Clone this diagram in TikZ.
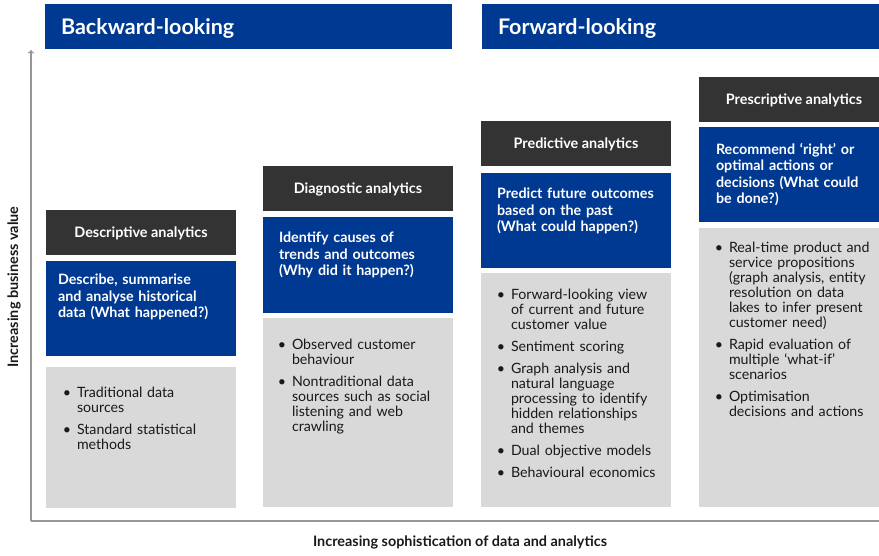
\documentclass[tikz,border=0pt]{standalone}
\usepackage{fontspec}
\setmainfont{Lato}
\usepackage{enumitem}
\usepackage{tikz}

\definecolor{kblue}{RGB}{0,57,145}
\definecolor{kdark}{RGB}{51,51,51}
\definecolor{kgrey}{RGB}{217,217,217}
\definecolor{kaxis}{RGB}{150,150,150}
\definecolor{ktext}{RGB}{25,25,25}

% compact bullets for the grey boxes
\setlist[itemize]{label=\textbullet, leftmargin=11pt, labelsep=6pt, itemsep=7pt,
  topsep=0pt, parsep=0pt, partopsep=0pt}

\begin{document}
\begin{tikzpicture}
  [x=1pt,y=-1pt,every node/.style={inner sep=0pt,outer sep=0pt},
   band/.style={fill=kblue,anchor=north west,minimum height=45pt,inner xsep=16pt,
     text width=375pt,align=left,text depth=0pt,text=white,
     font=\bfseries\fontsize{21.5}{24}\selectfont},
   darkbox/.style={fill=kdark,anchor=north west,minimum width=190pt,minimum height=45pt,
     text depth=0pt,text=white,font=\bfseries\fontsize{14.4}{16}\selectfont},
   bluebox/.style={fill=kblue,anchor=north west,minimum width=190pt,minimum height=95pt},
   greybox/.style={fill=kgrey,anchor=north west,minimum width=190pt},
   bluetext/.style={anchor=north west,text width=178pt,align=left,text=white,
     font=\bfseries\fontsize{14.3}{16.5}\selectfont},
   greytext/.style={anchor=north west,text width=172pt,align=left,text=ktext,
     font=\fontsize{14.2}{15}\selectfont},
   axislabel/.style={text=ktext,font=\bfseries\fontsize{14.4}{16}\selectfont},
   axis/.style={draw=kaxis,line width=1.3pt}]
  \clip (0,0) rectangle (879,555);

  % top bands
  \node[band] (back) at (45,4)  {Backward-looking};
  \node[band] (fwd)  at (482,4) {Forward-looking};

  % axes
  \coordinate (origin) at (31,521);
  \coordinate (ytop)   at (31,50);
  \coordinate (xend)   at (879,521);
  \draw[axis,->] (origin) -- (ytop);
  \draw[axis] (origin) -- (xend);
  \node[axislabel] (xlabel) at (460,542) {Increasing sophistication of data and analytics};
  \node[axislabel,rotate=90] (ylabel) at (14,287) {Increasing business value};

  % descriptive
  \node[darkbox] (d1) at (46,210) {Descriptive analytics};
  \node[bluebox] (b1) at (46,261) {};
  \node[greybox,minimum height=141pt] (g1) at (46,367) {};
  \node[bluetext] (bt1) at ([shift={(12,13)}]b1.north west)
    {Describe, summarise\\and analyse historical\\data (What happened?)};
  \node[greytext] (gt1) at ([shift={(20,15)}]g1.north west) {%
    \begin{itemize}
      \item Traditional data\newline sources
      \item Standard statistical\newline methods
    \end{itemize}};

  % diagnostic
  \node[darkbox] (d2) at (263,166) {Diagnostic analytics};
  \node[bluebox,minimum height=96pt] (b2) at (263,217) {};
  \node[greybox,minimum height=189pt] (g2) at (263,318) {};
  \node[bluetext] (bt2) at ([shift={(16,15)}]b2.north west)
    {Identify causes of\\trends and outcomes\\(Why did it happen?)};
  \node[greytext] (gt2) at ([shift={(18,16)}]g2.north west) {%
    \begin{itemize}
      \item Observed customer\newline behaviour
      \item Nontraditional data\newline sources such as social\newline listening and web\newline crawling
    \end{itemize}};

  % predictive
  \node[darkbox] (d3) at (481,121) {Predictive analytics};
  \node[bluebox] (b3) at (481,173) {};
  \node[greybox,minimum height=234pt] (g3) at (481,273) {};
  \node[bluetext] (bt3) at ([shift={(16,15)}]b3.north west)
    {Predict future outcomes\\based on the past\\(What could happen?)};
  \node[greytext] (gt3) at ([shift={(19,11)}]g3.north west) {%
    \begin{itemize}
      \item Forward-looking view\newline of current and future\newline customer value
      \item Sentiment scoring
      \item Graph analysis and\newline natural language\newline processing to identify\newline hidden relationships\newline and themes
      \item Dual objective models
      \item Behavioural economics
    \end{itemize}};

  % prescriptive
  \node[darkbox] (d4) at (699,77) {Prescriptive analytics};
  \node[bluebox] (b4) at (699,127) {};
  \node[greybox,minimum height=279pt] (g4) at (699,228) {};
  \node[bluetext] (bt4) at ([shift={(17,16)}]b4.north west)
    {Recommend ‘right’ or\\optimal actions or\\decisions (What could\\be done?)};
  \node[greytext] (gt4) at ([shift={(19,9)}]g4.north west) {%
    \begin{itemize}
      \item Real-time product and\newline service propositions\newline (graph analysis, entity\newline resolution on data\newline lakes to infer present\newline customer need)
      \item Rapid evaluation of\newline multiple ‘what-if’\newline scenarios
      \item Optimisation\newline decisions and actions
    \end{itemize}};
\end{tikzpicture}
\end{document}
